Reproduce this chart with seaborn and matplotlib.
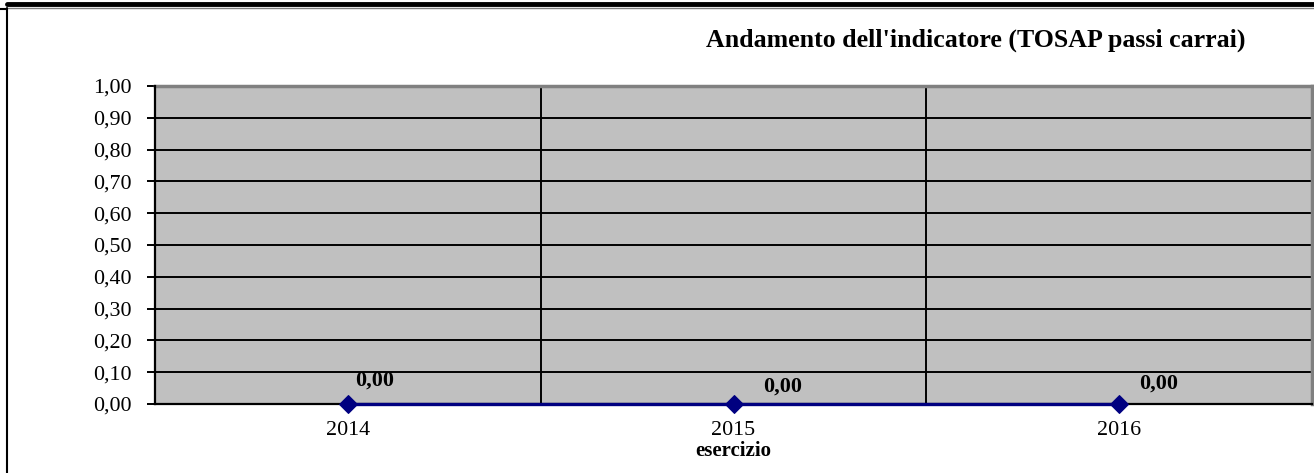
import matplotlib
matplotlib.use("Agg")
import matplotlib.pyplot as plt
from matplotlib.lines import Line2D
import seaborn as sns
import pandas as pd
import numpy as np

years = ["2014", "2015", "2016"]
values = [0.00, 0.00, 0.00]
value_labels = ["0,00", "0,00", "0,00"]
y_ticks = [0.0, 0.1, 0.2, 0.3, 0.4, 0.5, 0.6, 0.7, 0.8, 0.9, 1.0]
y_tick_labels = ["0,00", "0,10", "0,20", "0,30", "0,40", "0,50", "0,60", "0,70", "0,80", "0,90", "1,00"]
title = "Andamento dell'indicatore (TOSAP passi carrai)"
x_title = "esercizio"

sns.set_theme(style="white")
plt.rcParams['font.family'] = ['Liberation Serif', 'DejaVu Serif']
plt.rcParams.update({"text.color": "black", "axes.labelcolor": "black",
                     "xtick.color": "black", "ytick.color": "black",
                     "xtick.labelcolor": "black", "ytick.labelcolor": "black"})

W, H, DPI = 1314, 473, 100
fig = plt.figure(figsize=(W / DPI, H / DPI), dpi=DPI)
fig.patch.set_facecolor("white")

L, R, T, B = 155, 1312, 86, 404
ax = fig.add_axes([L / W, 1 - B / H, (R - L) / W, (B - T) / H])
ax.set_facecolor("#C0C0C0")

df = pd.DataFrame({"x": np.arange(len(years)), "y": values})

ax.set_xlim(-0.5, len(years) - 0.5)
ax.set_ylim(0, 1.0)

# grid
for yv in y_ticks[1:-1]:
    ax.axhline(yv, color="black", lw=1.4, zorder=1)
for xv in np.arange(0.5, len(years) - 0.5, 1):
    ax.axvline(xv, color="black", lw=1.4, zorder=1)

sns.lineplot(data=df, x="x", y="y", ax=ax, color="#000080", lw=2.4,
             marker="D", markersize=9, markeredgecolor="#000080",
             markerfacecolor="#000080", zorder=5, clip_on=False)

offsets = [(27, 23), (49, 17), (39, 20)]
for i, (v, lab) in enumerate(zip(values, value_labels)):
    ax.annotate(lab, (i, v), xytext=offsets[i], textcoords="offset pixels",
                ha="center", va="center", fontsize=15.8, fontweight="bold",
                color="black", zorder=6)

ax.set_yticks(y_ticks)
ax.set_yticklabels(y_tick_labels, fontsize=15.8)
ax.set_xticks(np.arange(-0.5, len(years), 1))
ax.set_xticklabels([])
ax.set_xticks(np.arange(len(years)), minor=True)
ax.set_xticklabels(years, minor=True, fontsize=15.8)
ax.tick_params(axis="x", which="major", direction="out", length=6, width=1.4, color="black")
ax.tick_params(axis="x", which="minor", length=0, pad=12)
ax.tick_params(axis="y", direction="out", length=6, width=1.4, color="black", pad=11, left=True)
ax.set_xlabel(x_title, fontsize=15, fontweight="bold", labelpad=1, color="black")
ax.set_ylabel("")

for s in ["top", "right"]:
    ax.spines[s].set_color("#808080")
    ax.spines[s].set_linewidth(2.5)
for s in ["left", "bottom"]:
    ax.spines[s].set_color("black")
    ax.spines[s].set_linewidth(1.6)
    ax.spines[s].set_zorder(4)

fig.text(976 / W, 1 - 40 / H, title, ha="center", va="center",
         fontsize=18.6, fontweight="bold", color="black")

# outer frame lines
fig.add_artist(Line2D([7 / W, 1], [1 - 4 / H, 1 - 4 / H], color="black", lw=3.5, transform=fig.transFigure))
fig.add_artist(Line2D([0, 7 / W], [1 - 9 / H, 1 - 9 / H], color="black", lw=1.5, transform=fig.transFigure))
fig.add_artist(Line2D([7 / W, 1], [1 - 8.5 / H, 1 - 8.5 / H], color="#808080", lw=1.0, transform=fig.transFigure))
fig.add_artist(Line2D([6.5 / W, 6.5 / W], [0, 1 - 8 / H], color="black", lw=1.5, transform=fig.transFigure))

fig.savefig("out.png", dpi=DPI)
